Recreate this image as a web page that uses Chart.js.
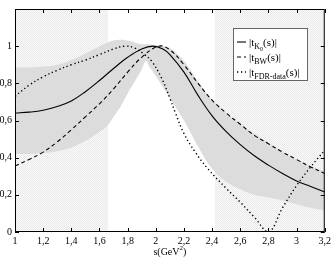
<!DOCTYPE html>
<html>
<head>
<meta charset="utf-8">
<script src="https://cdn.jsdelivr.net/npm/chart.js@4/dist/chart.umd.min.js"></script>
<style>
  html, body { margin: 0; padding: 0; background: #fff; }
  #chart { display: block; }
</style>
</head>
<body>
<canvas id="chart" width="334" height="258"></canvas>
<script>
// s values (GeV^2) and curves
var sK0 = [1.0, 1.1, 1.2, 1.3, 1.4, 1.5, 1.6, 1.7, 1.8, 1.9, 1.98, 2.05, 2.1, 2.2, 2.3, 2.4, 2.5, 2.6, 2.7, 2.8, 2.9, 3.0, 3.1, 3.2];
var tK0 = [0.64, 0.645, 0.655, 0.675, 0.705, 0.755, 0.815, 0.88, 0.94, 0.985, 1.0, 0.985, 0.955, 0.86, 0.735, 0.625, 0.54, 0.47, 0.41, 0.36, 0.315, 0.275, 0.245, 0.215];

var sBW = [1.0, 1.1, 1.2, 1.3, 1.4, 1.5, 1.6, 1.7, 1.8, 1.9, 2.02, 2.1, 2.2, 2.3, 2.4, 2.5, 2.6, 2.7, 2.8, 2.9, 3.0, 3.1, 3.2];
var tBW = [0.355, 0.39, 0.43, 0.485, 0.55, 0.62, 0.69, 0.77, 0.86, 0.94, 1.0, 0.98, 0.90, 0.80, 0.71, 0.64, 0.58, 0.52, 0.475, 0.43, 0.39, 0.35, 0.315];

var sFDR = [1.0, 1.1, 1.2, 1.3, 1.4, 1.5, 1.6, 1.7, 1.78, 1.85, 1.92, 1.97, 2.04, 2.1, 2.14, 2.2, 2.28, 2.37, 2.5, 2.6, 2.7, 2.8, 2.9, 3.0, 3.1, 3.2];
var tFDR = [0.73, 0.79, 0.835, 0.87, 0.9, 0.925, 0.955, 0.985, 1.0, 0.99, 0.955, 0.92, 0.83, 0.72, 0.64, 0.53, 0.43, 0.34, 0.235, 0.16, 0.08, 0.0, 0.13, 0.25, 0.35, 0.44];

// error band around |t_K0|
var sBand = [1.0, 1.1, 1.2, 1.3, 1.4, 1.5, 1.6, 1.66, 1.7, 1.75, 1.8, 1.85, 1.9, 1.93, 1.95, 2.0, 2.05, 2.1, 2.2, 2.3, 2.4, 2.5, 2.6, 2.7, 2.8, 2.9, 3.0, 3.1, 3.2];
var bandUpper = [0.885, 0.885, 0.89, 0.90, 0.925, 0.96, 1.0, 1.02, 1.03, 1.035, 1.03, 1.02, 1.01, 1.01, 1.01, 1.005, 1.0, 0.99, 0.92, 0.81, 0.71, 0.64, 0.58, 0.53, 0.48, 0.43, 0.39, 0.355, 0.325];
var bandLower = [0.42, 0.42, 0.425, 0.435, 0.455, 0.49, 0.54, 0.575, 0.62, 0.675, 0.745, 0.81, 0.875, 0.92, 0.895, 0.84, 0.78, 0.72, 0.60, 0.46, 0.34, 0.27, 0.23, 0.20, 0.185, 0.17, 0.15, 0.13, 0.115];

// dotted-pattern s ranges
var shadedRanges = [[1.0, 1.66], [2.42, 3.2]];

var xTicks = [1, 1.2, 1.4, 1.6, 1.8, 2, 2.2, 2.4, 2.6, 2.8, 3, 3.2];
var yTicks = [0, 0.2, 0.4, 0.6, 0.8, 1];

var legendItems = [
  { dash: [], width: 1.1, sub: 'K', subsub: '0' },
  { dash: [4, 3], width: 1.1, sub: 'BW', subsub: '' },
  { dash: [1.3, 2.7], width: 1.4, sub: 'FDR-data', subsub: '' }
];

function pts(xs, ys) {
  return xs.map(function (x, i) { return { x: x, y: ys[i] }; });
}

function fmt(v) {
  var r = Math.round(v * 10) / 10;
  return String(r).replace('.', ',');
}

var FONT = "'Liberation Serif', 'DejaVu Serif', serif";

// fine dotted background pattern
var patCanvas = document.createElement('canvas');
patCanvas.width = 2;
patCanvas.height = 2;
var pctx = patCanvas.getContext('2d');
pctx.fillStyle = '#fafafa';
pctx.fillRect(0, 0, 2, 2);
pctx.fillStyle = '#e9e9e9';
pctx.fillRect(0, 0, 1, 1);
pctx.fillRect(1, 1, 1, 1);

var framePlugin = {
  id: 'framePlugin',
  beforeDatasetsDraw: function (chart) {
    var ctx = chart.ctx;
    var a = chart.chartArea;
    var xs = chart.scales.x;
    ctx.save();
    ctx.fillStyle = ctx.createPattern(patCanvas, 'repeat');
    shadedRanges.forEach(function (r) {
      var x0 = xs.getPixelForValue(r[0]);
      var x1 = xs.getPixelForValue(r[1]);
      ctx.fillRect(x0, a.top, x1 - x0, a.bottom - a.top);
    });
    ctx.restore();
  },
  afterDatasetsDraw: function (chart) {
    var ctx = chart.ctx;
    var a = chart.chartArea;
    var xs = chart.scales.x;
    var ys = chart.scales.y;
    ctx.save();
    ctx.strokeStyle = '#000';
    ctx.lineWidth = 1;
    ctx.setLineDash([]);
    ctx.strokeRect(a.left + 0.5, a.top + 0.5, a.right - a.left - 1, a.bottom - a.top - 1);

    // inward ticks on all four sides
    var tl = 4;
    ctx.beginPath();
    xTicks.forEach(function (v) {
      var px = Math.round(xs.getPixelForValue(v)) + 0.5;
      ctx.moveTo(px, a.bottom);
      ctx.lineTo(px, a.bottom - tl);
      ctx.moveTo(px, a.top);
      ctx.lineTo(px, a.top + tl);
    });
    yTicks.forEach(function (v) {
      var py = Math.round(ys.getPixelForValue(v)) + 0.5;
      ctx.moveTo(a.left, py);
      ctx.lineTo(a.left + tl, py);
      ctx.moveTo(a.right, py);
      ctx.lineTo(a.right - tl, py);
    });
    ctx.stroke();

    // axis title
    ctx.fillStyle = '#000';
    ctx.textAlign = 'left';
    ctx.textBaseline = 'alphabetic';
    ctx.font = '10px ' + FONT;
    var t1 = 's(GeV', t2 = ')';
    var w1 = ctx.measureText(t1).width;
    ctx.font = '7px ' + FONT;
    var wsup = ctx.measureText('2').width;
    ctx.font = '10px ' + FONT;
    var w2 = ctx.measureText(t2).width;
    var tx = (a.left + a.right) / 2 - (w1 + wsup + w2) / 2;
    ctx.fillText(t1, tx, 255);
    ctx.font = '7px ' + FONT;
    ctx.fillText('2', tx + w1, 250);
    ctx.font = '10px ' + FONT;
    ctx.fillText(t2, tx + w1 + wsup, 255);

    // legend box
    var bx = 233, by = 28, bw = 74, bh = 52;
    ctx.fillStyle = '#fff';
    ctx.fillRect(bx, by, bw, bh);
    ctx.strokeStyle = '#666';
    ctx.strokeRect(bx + 0.5, by + 0.5, bw, bh);

    legendItems.forEach(function (it, i) {
      var cy = by + 14 + i * 15;
      ctx.strokeStyle = '#000';
      ctx.lineWidth = it.width;
      ctx.setLineDash(it.dash);
      ctx.beginPath();
      ctx.moveTo(237, cy);
      ctx.lineTo(246, cy);
      ctx.stroke();
      ctx.setLineDash([]);

      ctx.fillStyle = '#000';
      var x = 249;
      var base = cy + 4;
      ctx.font = '11px ' + FONT;
      ctx.fillText('|t', x, base);
      x += ctx.measureText('|t').width;
      ctx.font = '8px ' + FONT;
      ctx.fillText(it.sub, x, base + 3);
      x += ctx.measureText(it.sub).width;
      if (it.subsub) {
        ctx.font = '6px ' + FONT;
        ctx.fillText(it.subsub, x, base + 5);
        x += ctx.measureText(it.subsub).width;
      }
      ctx.font = '11px ' + FONT;
      ctx.fillText('(s)|', x, base);
    });
    ctx.restore();
  }
};

var curveStyle = {
  pointRadius: 0,
  tension: 0.4,
  borderColor: '#000',
  fill: false
};

new Chart(document.getElementById('chart'), {
  type: 'line',
  data: {
    datasets: [
      Object.assign({ label: 'tK0', data: pts(sK0, tK0), borderWidth: 1.1 }, curveStyle),
      Object.assign({ label: 'tBW', data: pts(sBW, tBW), borderWidth: 1.1, borderDash: [4, 3] }, curveStyle),
      Object.assign({ label: 'tFDR', data: pts(sFDR, tFDR), borderWidth: 1.4, borderDash: [1.3, 2.7] }, curveStyle),
      {
        label: 'bandUpper', data: pts(sBand, bandUpper), pointRadius: 0, borderWidth: 0, tension: 0.4,
        borderColor: 'rgba(0,0,0,0)', backgroundColor: '#dcdcdc', fill: '+1'
      },
      {
        label: 'bandLower', data: pts(sBand, bandLower), pointRadius: 0, borderWidth: 0, tension: 0.4,
        borderColor: 'rgba(0,0,0,0)', backgroundColor: '#dcdcdc', fill: false
      }
    ]
  },
  options: {
    responsive: false,
    animation: false,
    layout: { padding: { left: 0, right: 7, top: 2, bottom: 0 } },
    plugins: {
      legend: { display: false },
      tooltip: { enabled: false }
    },
    scales: {
      x: {
        type: 'linear',
        min: 1,
        max: 3.2,
        afterFit: function (s) { s.height = 26; },
        afterBuildTicks: function (s) { s.ticks = xTicks.map(function (v) { return { value: v }; }); },
        grid: { display: false, drawTicks: false },
        border: { display: false },
        ticks: {
          padding: 3,
          color: '#000',
          font: { family: FONT, size: 10 },
          maxRotation: 0,
          autoSkip: false,
          callback: function (v) { return fmt(v); }
        }
      },
      y: {
        min: 0,
        max: 1.2,
        afterFit: function (s) { s.width = 15; },
        afterBuildTicks: function (s) { s.ticks = yTicks.map(function (v) { return { value: v }; }); },
        grid: { display: false, drawTicks: false },
        border: { display: false },
        ticks: {
          padding: 3,
          color: '#000',
          font: { family: FONT, size: 10 },
          callback: function (v) { return fmt(v); }
        }
      }
    }
  },
  plugins: [framePlugin]
});
</script>
</body>
</html>
